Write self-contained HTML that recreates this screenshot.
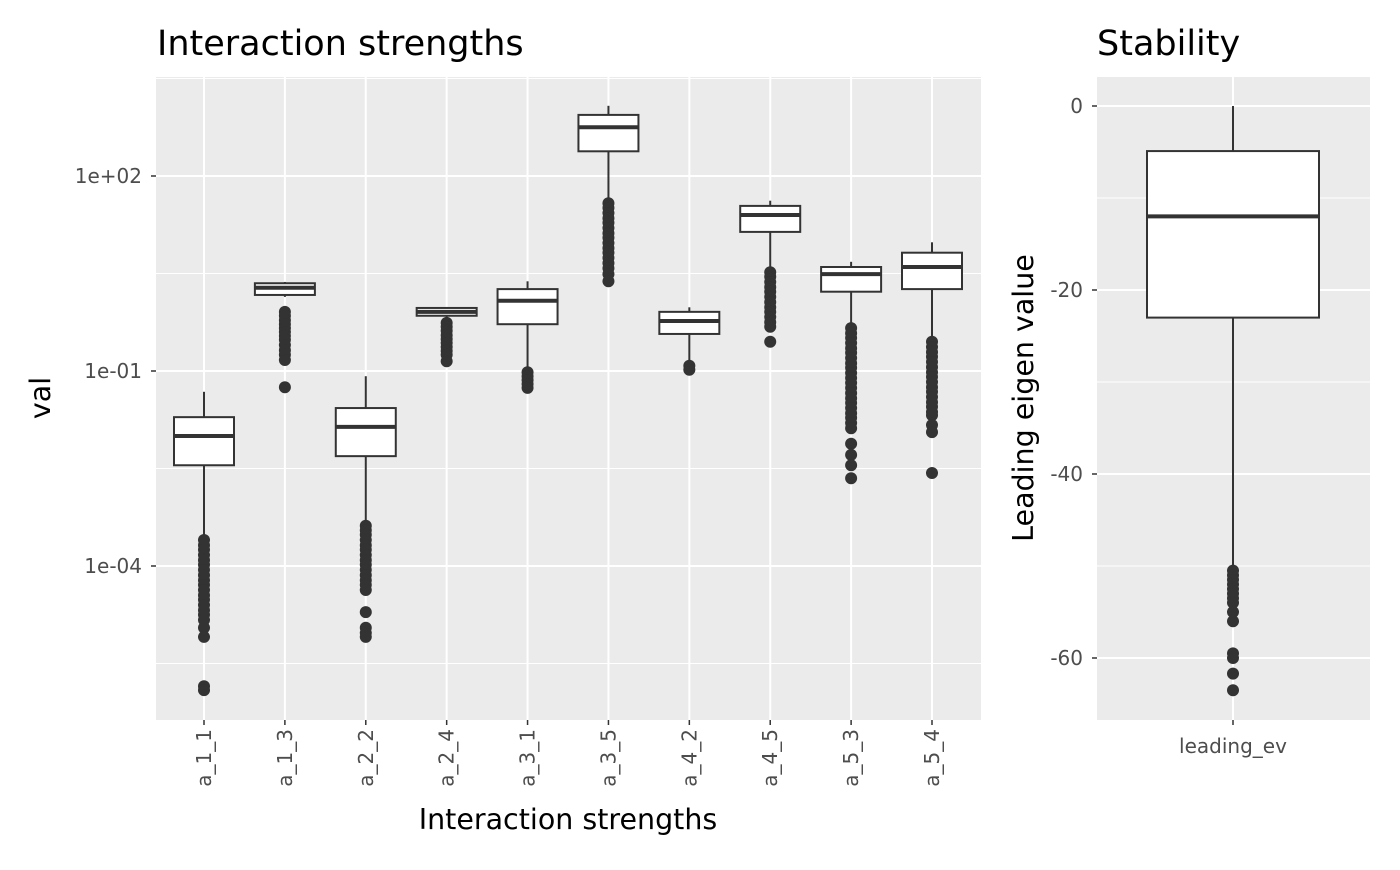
<!DOCTYPE html>
<html><head><meta charset="utf-8">
<style>
html,body{margin:0;padding:0;background:#fff;}
svg text{font-family:"DejaVu Sans","Liberation Sans",sans-serif;}
</style></head>
<body>
<svg id="chart" width="1400" height="865" xmlns="http://www.w3.org/2000/svg"></svg>
<script>
// ---- data (left panel values are log10) ----
const categories = ["a_1_1","a_1_3","a_2_2","a_2_4","a_3_1","a_3_5","a_4_2","a_4_5","a_5_3","a_5_4"];
const whiskerHigh = [-1.32,0.37,-1.08,-0.02,0.38,3.08,-0.02,1.62,0.68,0.98];
const q3Vals      = [-1.71,0.35,-1.57,-0.03,0.26,2.94,-0.09,1.54,0.60,0.82];
const medians     = [-2.00,0.28,-1.86,-0.09,0.08,2.75,-0.23,1.40,0.49,0.60];
const q1Vals      = [-2.45,0.17,-2.31,-0.15,-0.28,2.38,-0.43,1.14,0.22,0.26];
const whiskerLow  = [-3.52,0.14,-3.32,-0.17,-0.98,1.63,-0.89,0.57,-0.31,-0.52];
const outliers = [
 [-3.6,-3.68,-3.75,-3.83,-3.91,-3.98,-4.06,-4.14,-4.22,-4.29,-4.37,-4.45,-4.52,-4.6,-4.68,-4.75,-4.83,-4.95,-5.09,-5.85,-5.91],
 [-0.09,-0.15,-0.22,-0.28,-0.34,-0.4,-0.46,-0.52,-0.6,-0.68,-0.75,-0.83,-1.25],
 [-3.38,-3.45,-3.52,-3.6,-3.68,-3.75,-3.83,-3.91,-3.98,-4.06,-4.14,-4.22,-4.29,-4.37,-4.71,-4.95,-5.03,-5.09],
 [-0.26,-0.32,-0.38,-0.45,-0.51,-0.57,-0.63,-0.69,-0.75,-0.85],
 [-1.02,-1.08,-1.14,-1.2,-1.26],
 [1.58,1.51,1.43,1.35,1.28,1.2,1.12,1.05,0.97,0.89,0.82,0.74,0.66,0.58,0.49,0.38],
 [-0.92,-0.98],
 [0.52,0.45,0.37,0.29,0.22,0.14,0.06,-0.02,-0.09,-0.17,-0.25,-0.32,-0.55],
 [-0.34,-0.42,-0.49,-0.57,-0.65,-0.72,-0.8,-0.88,-0.95,-1.03,-1.11,-1.18,-1.26,-1.34,-1.42,-1.49,-1.57,-1.65,-1.72,-1.8,-1.88,-2.12,-2.29,-2.45,-2.65],
 [-0.55,-0.63,-0.71,-0.78,-0.86,-0.94,-1.02,-1.09,-1.17,-1.25,-1.32,-1.4,-1.48,-1.55,-1.63,-1.68,-1.83,-1.94,-2.57]
];
const yTickLogs = [2,-1,-4];
const yTickLabels = ["1e+02","1e-01","1e-04"];
const yMinorLogs = [3.5,0.5,-2.5,-5.5];
// right panel
const evCategory = ["leading_ev"];
const evStats = [0,-4.9,-12.0,-23.0,-50.0]; // whiskerHigh,q3,median,q1,whiskerLow
const evOutliers = [-50.5,-51,-51.5,-52,-52.5,-53,-53.5,-54,-55,-56,-59.5,-60,-61.7,-63.5];
const evTicks = [0,-20,-40,-60];
const evMinor = [-10,-30,-50];

const svg = document.getElementById('chart');
const NS = "http://www.w3.org/2000/svg";
function mk(tag, attrs, name, parent){
  const e = document.createElementNS(NS, tag);
  for (const k in attrs) e.setAttribute(k, attrs[k]);
  
  
  (parent||svg).appendChild(e);
  return e;
}
const TICK = 20;
// ---- left scales ----
const L = {x0:156,x1:981,y0:77,y1:720};
const yL = v => 176 + (2 - v) * 65;
const bandStep = (932-204)/9;
const xL = i => 204 + i*bandStep;

mk('rect',{x:L.x0,y:L.y0,width:L.x1-L.x0,height:L.y1-L.y0,fill:'#ebebeb'},'left-panel-background');
yMinorLogs.forEach(v=>{ mk('line',{x1:L.x0,x2:L.x1,y1:yL(v),y2:yL(v),stroke:'#fff','stroke-width':1},'minor-gridline'); });
yTickLogs.forEach((v,i)=>{
  mk('line',{x1:L.x0,x2:L.x1,y1:yL(v),y2:yL(v),stroke:'#fff','stroke-width':2},'major-gridline');
  mk('line',{x1:L.x0-5,x2:L.x0,y1:yL(v),y2:yL(v),stroke:'#333','stroke-width':1.5},'y-tick');
  const t = mk('text',{x:L.x0-14,y:yL(v)+7,'text-anchor':'end','font-size':TICK,fill:'#4d4d4d'},'y-tick-label');
  t.textContent = yTickLabels[i];
});
categories.forEach((c,i)=>{
  mk('line',{x1:xL(i),x2:xL(i),y1:L.y0,y2:L.y1,stroke:'#fff','stroke-width':2},'vertical-gridline');
});
categories.forEach((c,i)=>{
  const x = xL(i), hw = 30;
  const g = mk('g',{},'box-'+c);
  mk('line',{x1:x,x2:x,y1:yL(whiskerHigh[i]),y2:yL(q3Vals[i]),stroke:'#333','stroke-width':2},'whisker-upper',g);
  mk('line',{x1:x,x2:x,y1:yL(q1Vals[i]),y2:yL(whiskerLow[i]),stroke:'#333','stroke-width':2},'whisker-lower',g);
  mk('rect',{x:x-hw,y:yL(q3Vals[i]),width:hw*2,height:yL(q1Vals[i])-yL(q3Vals[i]),fill:'#fff',stroke:'#333','stroke-width':2},'box-body',g);
  mk('line',{x1:x-hw,x2:x+hw,y1:yL(medians[i]),y2:yL(medians[i]),stroke:'#333','stroke-width':4},'median-line',g);
  outliers[i].forEach(v=>{ mk('circle',{cx:x,cy:yL(v),r:6,fill:'#333'},'outlier-point',g); });
  mk('line',{x1:x,x2:x,y1:L.y1,y2:L.y1+5,stroke:'#333','stroke-width':1.5},'x-tick');
  const t = mk('text',{x:0,y:0,'text-anchor':'end','font-size':TICK,fill:'#4d4d4d',transform:`translate(${x+7},${L.y1+9}) rotate(-90)`},'x-tick-label');
  t.textContent = c;
});
let t;
t = mk('text',{x:157,y:55,'font-size':35,fill:'#000'},'left-title'); t.textContent='Interaction strengths';
t = mk('text',{x:568,y:829,'text-anchor':'middle','font-size':28.5,fill:'#000'},'x-axis-title'); t.textContent='Interaction strengths';
t = mk('text',{x:0,y:0,'text-anchor':'middle','font-size':28.5,fill:'#000',transform:'translate(50,398) rotate(-90)'},'y-axis-title'); t.textContent='val';

// ---- right scales ----
const R = {x0:1097,x1:1370,y0:77,y1:720};
const yR = v => 106 - v*9.2;
const xR = 1233;
mk('rect',{x:R.x0,y:R.y0,width:R.x1-R.x0,height:R.y1-R.y0,fill:'#ebebeb'},'right-panel-background');
evMinor.forEach(v=>{ mk('line',{x1:R.x0,x2:R.x1,y1:yR(v),y2:yR(v),stroke:'#fff','stroke-width':1},'minor-gridline'); });
evTicks.forEach(v=>{
  mk('line',{x1:R.x0,x2:R.x1,y1:yR(v),y2:yR(v),stroke:'#fff','stroke-width':2},'major-gridline');
  mk('line',{x1:R.x0-5,x2:R.x0,y1:yR(v),y2:yR(v),stroke:'#333','stroke-width':1.5},'y-tick');
  const tt = mk('text',{x:R.x0-14,y:yR(v)+7,'text-anchor':'end','font-size':TICK,fill:'#4d4d4d'},'y-tick-label');
  tt.textContent = String(v);
});
mk('line',{x1:xR,x2:xR,y1:R.y0,y2:R.y1,stroke:'#fff','stroke-width':2},'vertical-gridline');
const gR = mk('g',{},'box-leading-ev');
const hwR = 86;
mk('line',{x1:xR,x2:xR,y1:yR(evStats[0]),y2:yR(evStats[1]),stroke:'#333','stroke-width':2},'whisker-upper',gR);
mk('line',{x1:xR,x2:xR,y1:yR(evStats[3]),y2:yR(evStats[4]),stroke:'#333','stroke-width':2},'whisker-lower',gR);
mk('rect',{x:xR-hwR,y:yR(evStats[1]),width:hwR*2,height:yR(evStats[3])-yR(evStats[1]),fill:'#fff',stroke:'#333','stroke-width':2},'box-body',gR);
mk('line',{x1:xR-hwR,x2:xR+hwR,y1:yR(evStats[2]),y2:yR(evStats[2]),stroke:'#333','stroke-width':4},'median-line',gR);
evOutliers.forEach(v=>{ mk('circle',{cx:xR,cy:yR(v),r:6,fill:'#333'},'outlier-point',gR); });
mk('line',{x1:xR,x2:xR,y1:R.y1,y2:R.y1+5,stroke:'#333','stroke-width':1.5},'x-tick');
t = mk('text',{x:xR,y:753,'text-anchor':'middle','font-size':TICK,fill:'#4d4d4d'},'x-tick-label'); t.textContent=evCategory[0];
t = mk('text',{x:1097,y:55,'font-size':35,fill:'#000'},'right-title'); t.textContent='Stability';
t = mk('text',{x:0,y:0,'text-anchor':'middle','font-size':28.5,fill:'#000',transform:'translate(1033,398) rotate(-90)'},'right-y-axis-title'); t.textContent='Leading eigen value';
</script>
</body></html>
